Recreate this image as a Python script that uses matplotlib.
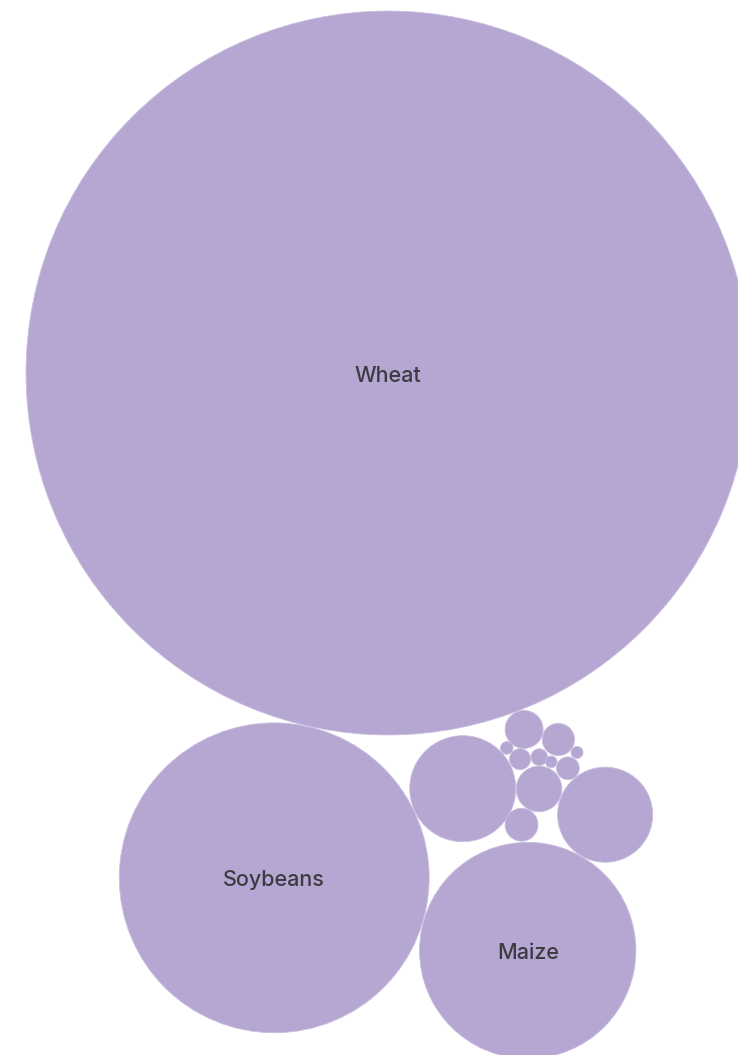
import math
import matplotlib
matplotlib.use("Agg")
import matplotlib.pyplot as plt
from matplotlib.patches import Circle

# ---- data ----
crops = ["Wheat", "Soybeans", "Maize", "Barley", "Sunflower seed", "Sorghum",
         "Oats", "Rice", "Rapeseed", "Beans", "Peanuts", "Rye", "Linseed",
         "Millet", "Canary seed"]
values = [13100, 2400, 1170, 281, 226, 52, 36, 27, 26, 13, 11, 7, 4, 3.6, 3.4]

# ---- layout: each bubble placed tangent to a parent bubble at a given angle (degrees, y downward) ----
layout = {
    "Soybeans": ("Wheat", 102.7),
    "Maize": ("Soybeans", 16.0),
    "Barley": ("Soybeans", -25.3),
    "Sunflower seed": ("Maize", -60.3),
    "Sorghum": ("Sunflower seed", 201.3),
    "Oats": ("Wheat", 69.1),
    "Rice": ("Sorghum", 116.1),
    "Rapeseed": ("Oats", 16.4),
    "Beans": ("Sunflower seed", 231.2),
    "Peanuts": ("Oats", 97.7),
    "Rye": ("Sorghum", 270.4),
    "Linseed": ("Peanuts", 220.2),
    "Millet": ("Rapeseed", 34.8),
    "Canary seed": ("Beans", 201.3),
}
GAP = 0.6
SCALE = math.sqrt(10.0)  # pixel radius per sqrt(value)

radius = {n: SCALE * math.sqrt(v) for n, v in zip(crops, values)}
center = {"Wheat": (0.0, 0.0)}
for n in crops[1:]:
    parent, ang = layout[n]
    px, py = center[parent]
    d = radius[parent] + radius[n] + GAP
    a = math.radians(ang)
    center[n] = (px + d * math.cos(a), py + d * math.sin(a))

W, H = 738, 1055
fig = plt.figure(figsize=(W / 100, H / 100), dpi=100)
ax = fig.add_axes([0, 0, 1, 1])
ax.set_xlim(-388, W - 388)
ax.set_ylim(H - 373, -373)
ax.set_aspect("equal")
ax.axis("off")

color = "#b5a7d2"
for n in crops:
    x, y = center[n]
    ax.add_patch(Circle((x, y), radius[n], facecolor=color,
                        edgecolor="#c9bfe0", linewidth=0.6))
    if radius[n] > 90:
        ax.text(x, y + 2.5, n, ha="center", va="center", fontsize=15.5,
                color="#3d3a42", fontweight="medium",
                family=["Inter", "DejaVu Sans"])

fig.savefig("out.png", dpi=100)
